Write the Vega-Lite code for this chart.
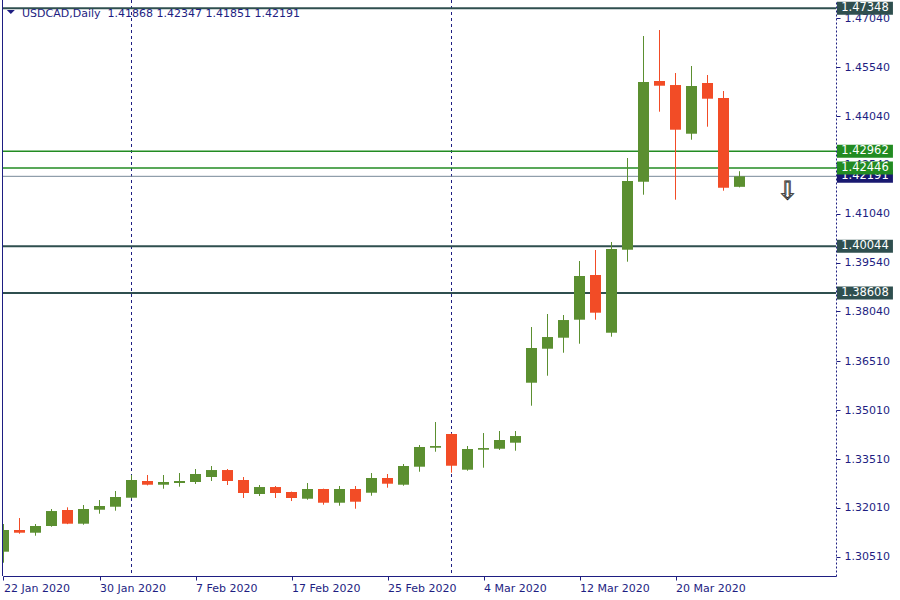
{
  "$schema": "https://vega.github.io/schema/vega-lite/v6.json",
  "width": 833,
  "height": 576,
  "autosize": {"type": "none"},
  "padding": {"left": 3, "top": 0, "right": 64, "bottom": 24},
  "background": "#ffffff",
  "config": {
    "view": {"stroke": null},
    "font": "DejaVu Sans",
    "axis": {"labelFont": "DejaVu Sans", "labelFontSize": 11, "labelColor": "#1e1e82", "tickColor": "#1e1e82", "domainColor": "#1e1e82", "tickSize": 4, "grid": false, "labelFlush": false, "labelOverlap": false, "labelBound": false},
    "axisX": {"labelAlign": "left", "labelBaseline": "top", "labelPadding": 2},
    "axisY": {"labelAlign": "left", "labelBaseline": "middle", "labelPadding": 4, "domainDash": [2, 2]}
  },
  "datasets": {
    "candles": [
      {"i": 0, "d": "2020-01-22", "o": 1.30664, "h": 1.31514, "l": 1.30326, "c": 1.3133},
      {"i": 1, "d": "2020-01-23", "o": 1.3133, "h": 1.31698, "l": 1.31216, "c": 1.31247},
      {"i": 2, "d": "2020-01-24", "o": 1.31247, "h": 1.31514, "l": 1.31155, "c": 1.31453},
      {"i": 3, "d": "2020-01-27", "o": 1.31453, "h": 1.31975, "l": 1.31431, "c": 1.31913},
      {"i": 4, "d": "2020-01-28", "o": 1.31944, "h": 1.32027, "l": 1.3151, "c": 1.31524},
      {"i": 5, "d": "2020-01-29", "o": 1.31524, "h": 1.32098, "l": 1.31493, "c": 1.31975},
      {"i": 6, "d": "2020-01-30", "o": 1.31953, "h": 1.32251, "l": 1.31831, "c": 1.32067},
      {"i": 7, "d": "2020-01-31", "o": 1.32045, "h": 1.32528, "l": 1.31923, "c": 1.32343},
      {"i": 8, "d": "2020-02-03", "o": 1.32322, "h": 1.33019, "l": 1.323, "c": 1.32866},
      {"i": 9, "d": "2020-02-04", "o": 1.32835, "h": 1.33019, "l": 1.327, "c": 1.32721},
      {"i": 10, "d": "2020-02-05", "o": 1.32721, "h": 1.33019, "l": 1.32598, "c": 1.32804},
      {"i": 11, "d": "2020-02-06", "o": 1.32773, "h": 1.3308, "l": 1.3266, "c": 1.32835},
      {"i": 12, "d": "2020-02-07", "o": 1.32804, "h": 1.33203, "l": 1.32743, "c": 1.3305},
      {"i": 13, "d": "2020-02-10", "o": 1.32957, "h": 1.33295, "l": 1.32835, "c": 1.33172},
      {"i": 14, "d": "2020-02-11", "o": 1.33172, "h": 1.33203, "l": 1.32712, "c": 1.32835},
      {"i": 15, "d": "2020-02-12", "o": 1.32866, "h": 1.32957, "l": 1.32313, "c": 1.32466},
      {"i": 16, "d": "2020-02-13", "o": 1.32435, "h": 1.32712, "l": 1.32374, "c": 1.3265},
      {"i": 17, "d": "2020-02-14", "o": 1.3265, "h": 1.32681, "l": 1.32313, "c": 1.32466},
      {"i": 18, "d": "2020-02-17", "o": 1.32497, "h": 1.3251, "l": 1.3222, "c": 1.32313},
      {"i": 19, "d": "2020-02-18", "o": 1.32291, "h": 1.32773, "l": 1.3226, "c": 1.32589},
      {"i": 20, "d": "2020-02-19", "o": 1.32589, "h": 1.326, "l": 1.32107, "c": 1.32168},
      {"i": 21, "d": "2020-02-20", "o": 1.32168, "h": 1.32681, "l": 1.32076, "c": 1.32589},
      {"i": 22, "d": "2020-02-21", "o": 1.32589, "h": 1.32681, "l": 1.31984, "c": 1.32199},
      {"i": 23, "d": "2020-02-24", "o": 1.32475, "h": 1.3308, "l": 1.32383, "c": 1.32927},
      {"i": 24, "d": "2020-02-25", "o": 1.32927, "h": 1.3305, "l": 1.32629, "c": 1.32752},
      {"i": 25, "d": "2020-02-26", "o": 1.32721, "h": 1.33357, "l": 1.3269, "c": 1.33295},
      {"i": 26, "d": "2020-02-27", "o": 1.33274, "h": 1.3394, "l": 1.3312, "c": 1.33879},
      {"i": 27, "d": "2020-02-28", "o": 1.33857, "h": 1.34646, "l": 1.33734, "c": 1.33909},
      {"i": 28, "d": "2020-03-02", "o": 1.34278, "h": 1.343, "l": 1.33089, "c": 1.33304},
      {"i": 29, "d": "2020-03-03", "o": 1.33182, "h": 1.33909, "l": 1.33151, "c": 1.33817},
      {"i": 30, "d": "2020-03-04", "o": 1.33796, "h": 1.34308, "l": 1.33243, "c": 1.33847},
      {"i": 31, "d": "2020-03-05", "o": 1.33826, "h": 1.3437, "l": 1.3379, "c": 1.34094},
      {"i": 32, "d": "2020-03-06", "o": 1.34011, "h": 1.3437, "l": 1.33765, "c": 1.34216},
      {"i": 33, "d": "2020-03-09", "o": 1.35853, "h": 1.37563, "l": 1.35147, "c": 1.36919},
      {"i": 34, "d": "2020-03-10", "o": 1.36897, "h": 1.37963, "l": 1.36068, "c": 1.37256},
      {"i": 35, "d": "2020-03-11", "o": 1.37235, "h": 1.37932, "l": 1.36774, "c": 1.37778},
      {"i": 36, "d": "2020-03-12", "o": 1.37788, "h": 1.3959, "l": 1.37051, "c": 1.3913},
      {"i": 37, "d": "2020-03-13", "o": 1.3916, "h": 1.39928, "l": 1.37788, "c": 1.38003},
      {"i": 38, "d": "2020-03-16", "o": 1.37388, "h": 1.40174, "l": 1.37266, "c": 1.39959},
      {"i": 39, "d": "2020-03-17", "o": 1.39937, "h": 1.42753, "l": 1.39569, "c": 1.42047},
      {"i": 40, "d": "2020-03-18", "o": 1.42025, "h": 1.46499, "l": 1.41626, "c": 1.45087},
      {"i": 41, "d": "2020-03-19", "o": 1.45117, "h": 1.46683, "l": 1.44175, "c": 1.44973},
      {"i": 42, "d": "2020-03-20", "o": 1.44994, "h": 1.45363, "l": 1.41473, "c": 1.43622},
      {"i": 43, "d": "2020-03-23", "o": 1.43499, "h": 1.45578, "l": 1.43315, "c": 1.44964},
      {"i": 44, "d": "2020-03-24", "o": 1.45056, "h": 1.45302, "l": 1.43714, "c": 1.44574},
      {"i": 45, "d": "2020-03-25", "o": 1.44595, "h": 1.4481, "l": 1.41749, "c": 1.41841},
      {"i": 46, "d": "2020-03-26", "o": 1.41868, "h": 1.42347, "l": 1.41851, "c": 1.42191}
    ],
    "levels": [
      {"p": 1.42191, "kind": "bid"},
      {"p": 1.47348, "kind": "res"},
      {"p": 1.42962, "kind": "sig"},
      {"p": 1.42446, "kind": "sig"},
      {"p": 1.40044, "kind": "res"},
      {"p": 1.38608, "kind": "res"}
    ],
    "seps": [{"i": 8}, {"i": 28}],
    "signal": [{"i": 49, "p": 1.4174}],
    "one": [{}]
  },
  "layer": [
    {
      "data": {"name": "seps"},
      "mark": {"type": "rule", "color": "#1e1e82", "strokeDash": [3, 3], "strokeWidth": 1},
      "encoding": {
        "x": {"field": "i", "type": "quantitative", "scale": {"domain": [-0.03125, 52.03125], "nice": false, "padding": 0},
          "axis": {"values": [0, 6, 12, 18, 24, 30, 36, 42], "labelExpr": "['22 Jan 2020','30 Jan 2020','7 Feb 2020','17 Feb 2020','25 Feb 2020','4 Mar 2020','12 Mar 2020','20 Mar 2020'][round(datum.value/6)]", "title": null}}
      }
    },
    {
      "data": {"name": "levels"},
      "mark": {"type": "rule"},
      "encoding": {
        "y": {"field": "p", "type": "quantitative", "scale": {"domain": [1.29918, 1.47605], "nice": false, "zero": false, "padding": 0},
          "axis": {"orient": "right", "values": [1.3051, 1.3201, 1.3351, 1.3501, 1.3651, 1.3804, 1.3954, 1.4104, 1.4254, 1.4404, 1.4554, 1.4704], "format": ".5f", "title": null}},
        "stroke": {"field": "kind", "type": "nominal", "scale": {"domain": ["bid", "sig", "res"], "range": ["#778899", "#228b22", "#2f4f4f"]}, "legend": null},
        "strokeWidth": {"field": "kind", "type": "nominal", "scale": {"domain": ["bid", "sig", "res"], "range": [1, 2, 2]}, "legend": null}
      }
    },
    {
      "data": {"name": "candles"},
      "mark": {"type": "rule", "strokeWidth": 1, "clip": true},
      "encoding": {
        "x": {"field": "i", "type": "quantitative", "scale": {"domain": [-0.03125, 52.03125], "nice": false, "padding": 0},
          "axis": {"values": [0, 6, 12, 18, 24, 30, 36, 42], "labelExpr": "['22 Jan 2020','30 Jan 2020','7 Feb 2020','17 Feb 2020','25 Feb 2020','4 Mar 2020','12 Mar 2020','20 Mar 2020'][round(datum.value/6)]", "title": null}},
        "y": {"field": "l", "type": "quantitative", "scale": {"domain": [1.29918, 1.47605], "nice": false, "zero": false, "padding": 0},
          "axis": {"orient": "right", "values": [1.3051, 1.3201, 1.3351, 1.3501, 1.3651, 1.3804, 1.3954, 1.4104, 1.4254, 1.4404, 1.4554, 1.4704], "format": ".5f", "title": null}},
        "y2": {"field": "h"},
        "color": {"condition": {"test": "datum.c >= datum.o", "value": "#5b8f30"}, "value": "#f24c26"}
      }
    },
    {
      "data": {"name": "candles"},
      "mark": {"type": "bar", "width": 11, "clip": true, "orient": "vertical"},
      "encoding": {
        "x": {"field": "i", "type": "quantitative", "scale": {"domain": [-0.03125, 52.03125], "nice": false, "padding": 0},
          "axis": {"values": [0, 6, 12, 18, 24, 30, 36, 42], "labelExpr": "['22 Jan 2020','30 Jan 2020','7 Feb 2020','17 Feb 2020','25 Feb 2020','4 Mar 2020','12 Mar 2020','20 Mar 2020'][round(datum.value/6)]", "title": null}},
        "y": {"field": "o", "type": "quantitative", "scale": {"domain": [1.29918, 1.47605], "nice": false, "zero": false, "padding": 0},
          "axis": {"orient": "right", "values": [1.3051, 1.3201, 1.3351, 1.3501, 1.3651, 1.3804, 1.3954, 1.4104, 1.4254, 1.4404, 1.4554, 1.4704], "format": ".5f", "title": null}},
        "y2": {"field": "c"},
        "color": {"condition": {"test": "datum.c >= datum.o", "value": "#5b8f30"}, "value": "#f24c26"}
      }
    },
    {
      "data": {"name": "one"},
      "mark": {"type": "rule", "color": "#1e1e82", "strokeWidth": 1, "clip": false},
      "encoding": {
        "x": {"datum": -0.0625, "type": "quantitative", "scale": {"domain": [-0.03125, 52.03125], "nice": false, "padding": 0},
          "axis": {"values": [0, 6, 12, 18, 24, 30, 36, 42], "labelExpr": "['22 Jan 2020','30 Jan 2020','7 Feb 2020','17 Feb 2020','25 Feb 2020','4 Mar 2020','12 Mar 2020','20 Mar 2020'][round(datum.value/6)]", "title": null}}
      }
    },
    {
      "data": {"name": "levels"},
      "transform": [{"filter": "datum.kind == 'bid'"}],
      "layer": [
        {
          "mark": {"type": "tick", "orient": "horizontal", "size": 56, "thickness": 13, "opacity": 1, "clip": false},
          "encoding": {
            "x": {"datum": 53.84, "type": "quantitative", "scale": {"domain": [-0.03125, 52.03125], "nice": false, "padding": 0},
              "axis": {"values": [0, 6, 12, 18, 24, 30, 36, 42], "labelExpr": "['22 Jan 2020','30 Jan 2020','7 Feb 2020','17 Feb 2020','25 Feb 2020','4 Mar 2020','12 Mar 2020','20 Mar 2020'][round(datum.value/6)]", "title": null}},
            "y": {"field": "p", "type": "quantitative", "scale": {"domain": [1.29918, 1.47605], "nice": false, "zero": false, "padding": 0},
              "axis": {"orient": "right", "values": [1.3051, 1.3201, 1.3351, 1.3501, 1.3651, 1.3804, 1.3954, 1.4104, 1.4254, 1.4404, 1.4554, 1.4704], "format": ".5f", "title": null}},
            "color": {"value": "#191970"}
          }
        },
        {
          "mark": {"type": "text", "color": "#ffffff", "fontSize": 11.5, "font": "DejaVu Sans", "align": "center", "baseline": "middle", "clip": false},
          "encoding": {
            "x": {"datum": 53.84, "type": "quantitative", "scale": {"domain": [-0.03125, 52.03125], "nice": false, "padding": 0},
              "axis": {"values": [0, 6, 12, 18, 24, 30, 36, 42], "labelExpr": "['22 Jan 2020','30 Jan 2020','7 Feb 2020','17 Feb 2020','25 Feb 2020','4 Mar 2020','12 Mar 2020','20 Mar 2020'][round(datum.value/6)]", "title": null}},
            "y": {"field": "p", "type": "quantitative", "scale": {"domain": [1.29918, 1.47605], "nice": false, "zero": false, "padding": 0},
              "axis": {"orient": "right", "values": [1.3051, 1.3201, 1.3351, 1.3501, 1.3651, 1.3804, 1.3954, 1.4104, 1.4254, 1.4404, 1.4554, 1.4704], "format": ".5f", "title": null}},
            "text": {"field": "p", "type": "quantitative", "format": ".5f"}
          }
        }
      ]
    },
    {
      "data": {"name": "levels"},
      "transform": [{"filter": "datum.kind != 'bid'"}],
      "layer": [
        {
          "mark": {"type": "tick", "orient": "horizontal", "size": 56, "thickness": 13, "opacity": 1, "clip": false},
          "encoding": {
            "x": {"datum": 53.84, "type": "quantitative", "scale": {"domain": [-0.03125, 52.03125], "nice": false, "padding": 0},
              "axis": {"values": [0, 6, 12, 18, 24, 30, 36, 42], "labelExpr": "['22 Jan 2020','30 Jan 2020','7 Feb 2020','17 Feb 2020','25 Feb 2020','4 Mar 2020','12 Mar 2020','20 Mar 2020'][round(datum.value/6)]", "title": null}},
            "y": {"field": "p", "type": "quantitative", "scale": {"domain": [1.29918, 1.47605], "nice": false, "zero": false, "padding": 0},
              "axis": {"orient": "right", "values": [1.3051, 1.3201, 1.3351, 1.3501, 1.3651, 1.3804, 1.3954, 1.4104, 1.4254, 1.4404, 1.4554, 1.4704], "format": ".5f", "title": null}},
            "color": {"condition": {"test": "datum.kind == 'sig'", "value": "#228b22"}, "value": "#2f4f4f"}
          }
        },
        {
          "mark": {"type": "text", "color": "#ffffff", "fontSize": 11.5, "font": "DejaVu Sans", "align": "center", "baseline": "middle", "clip": false},
          "encoding": {
            "x": {"datum": 53.84, "type": "quantitative", "scale": {"domain": [-0.03125, 52.03125], "nice": false, "padding": 0},
              "axis": {"values": [0, 6, 12, 18, 24, 30, 36, 42], "labelExpr": "['22 Jan 2020','30 Jan 2020','7 Feb 2020','17 Feb 2020','25 Feb 2020','4 Mar 2020','12 Mar 2020','20 Mar 2020'][round(datum.value/6)]", "title": null}},
            "y": {"field": "p", "type": "quantitative", "scale": {"domain": [1.29918, 1.47605], "nice": false, "zero": false, "padding": 0},
              "axis": {"orient": "right", "values": [1.3051, 1.3201, 1.3351, 1.3501, 1.3651, 1.3804, 1.3954, 1.4104, 1.4254, 1.4404, 1.4554, 1.4704], "format": ".5f", "title": null}},
            "text": {"field": "p", "type": "quantitative", "format": ".5f"}
          }
        }
      ]
    },
    {
      "data": {"name": "signal"},
      "mark": {"type": "text", "text": "⇩", "fontSize": 25, "font": "DejaVu Sans", "fill": "#ffffff", "stroke": "#222222", "strokeWidth": 0.8, "align": "center", "baseline": "middle"},
      "encoding": {
        "x": {"field": "i", "type": "quantitative", "scale": {"domain": [-0.03125, 52.03125], "nice": false, "padding": 0},
          "axis": {"values": [0, 6, 12, 18, 24, 30, 36, 42], "labelExpr": "['22 Jan 2020','30 Jan 2020','7 Feb 2020','17 Feb 2020','25 Feb 2020','4 Mar 2020','12 Mar 2020','20 Mar 2020'][round(datum.value/6)]", "title": null}},
        "y": {"field": "p", "type": "quantitative", "scale": {"domain": [1.29918, 1.47605], "nice": false, "zero": false, "padding": 0},
          "axis": {"orient": "right", "values": [1.3051, 1.3201, 1.3351, 1.3501, 1.3651, 1.3804, 1.3954, 1.4104, 1.4254, 1.4404, 1.4554, 1.4704], "format": ".5f", "title": null}}
      }
    },
    {
      "data": {"name": "one"},
      "mark": {"type": "point", "shape": "M-1,-0.5L1,-0.5L0,0.5Z", "size": 64, "filled": true, "opacity": 1, "color": "#1e1e82", "clip": false},
      "encoding": {
        "x": {"datum": 0.456, "type": "quantitative", "scale": {"domain": [-0.03125, 52.03125], "nice": false, "padding": 0},
          "axis": {"values": [0, 6, 12, 18, 24, 30, 36, 42], "labelExpr": "['22 Jan 2020','30 Jan 2020','7 Feb 2020','17 Feb 2020','25 Feb 2020','4 Mar 2020','12 Mar 2020','20 Mar 2020'][round(datum.value/6)]", "title": null}},
        "y": {"datum": 1.47237, "type": "quantitative", "scale": {"domain": [1.29918, 1.47605], "nice": false, "zero": false, "padding": 0},
          "axis": {"orient": "right", "values": [1.3051, 1.3201, 1.3351, 1.3501, 1.3651, 1.3804, 1.3954, 1.4104, 1.4254, 1.4404, 1.4554, 1.4704], "format": ".5f", "title": null}}
      }
    },
    {
      "data": {"name": "one"},
      "mark": {"type": "text", "text": "USDCAD,Daily\u00a0 1.41868 1.42347 1.41851 1.42191", "fontSize": 11, "font": "DejaVu Sans", "color": "#1e1e82", "align": "left", "baseline": "alphabetic", "clip": false},
      "encoding": {
        "x": {"datum": 1.156, "type": "quantitative", "scale": {"domain": [-0.03125, 52.03125], "nice": false, "padding": 0},
          "axis": {"values": [0, 6, 12, 18, 24, 30, 36, 42], "labelExpr": "['22 Jan 2020','30 Jan 2020','7 Feb 2020','17 Feb 2020','25 Feb 2020','4 Mar 2020','12 Mar 2020','20 Mar 2020'][round(datum.value/6)]", "title": null}},
        "y": {"datum": 1.47092, "type": "quantitative", "scale": {"domain": [1.29918, 1.47605], "nice": false, "zero": false, "padding": 0},
          "axis": {"orient": "right", "values": [1.3051, 1.3201, 1.3351, 1.3501, 1.3651, 1.3804, 1.3954, 1.4104, 1.4254, 1.4404, 1.4554, 1.4704], "format": ".5f", "title": null}}
      }
    }
  ]
}
